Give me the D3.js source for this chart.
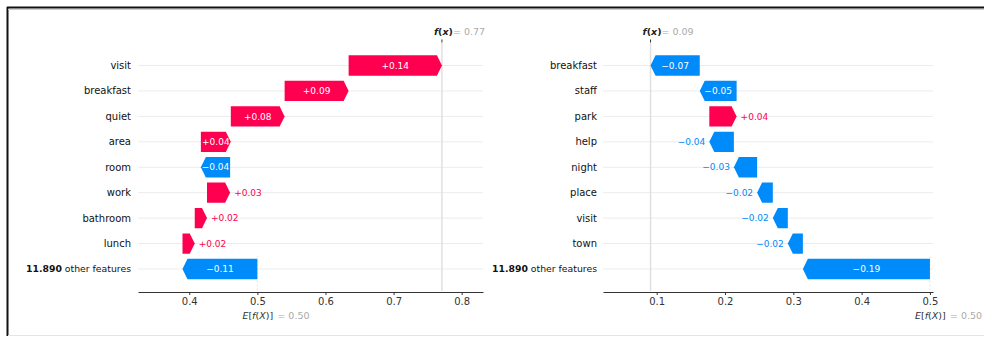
<!DOCTYPE html>
<html>
<head>
<meta charset="utf-8">
<script src="https://cdn.jsdelivr.net/npm/d3@7"></script>
<style>
  body { margin: 0; background: #fff; }
  svg { display: block; font-family: "DejaVu Sans", sans-serif; }
</style>
</head>
<body>
<svg id="chart" width="984" height="337"></svg>
<script>
// Expected model output shared by both explanations
const baseValue = 0.50;

// Left explanation: features listed top to bottom, SHAP values
const leftFeatures = ["visit", "breakfast", "quiet", "area", "room", "work", "bathroom", "lunch", "11.890 other features"];
const leftValues   = [0.137, 0.094, 0.079, 0.044, -0.043, 0.034, 0.018, 0.018, -0.11];
const leftTicks    = [0.4, 0.5, 0.6, 0.7, 0.8];
const leftTickLabels = ["0.4", "0.5", "0.6", "0.7", "0.8"];

// Right explanation
const rightFeatures = ["breakfast", "staff", "park", "help", "night", "place", "visit", "town", "11.890 other features"];
const rightValues   = [-0.072, -0.054, 0.040, -0.036, -0.034, -0.023, -0.022, -0.022, -0.186];
const rightTicks    = [0.1, 0.2, 0.3, 0.4, 0.5];
const rightTickLabels = ["0.1", "0.2", "0.3", "0.4", "0.5"];

const RED = "#ff0051", BLUE = "#008bfb";
const svg = d3.select("#chart");

// frame around the figure
svg.append("line").attr("x1", 7.5).attr("x2", 7.5).attr("y1", 7).attr("y2", 336)
  .attr("stroke", "#111").attr("stroke-width", 2);
svg.append("line").attr("x1", 7).attr("x2", 984).attr("y1", 7.5).attr("y2", 7.5)
  .attr("stroke", "#111").attr("stroke-width", 2);
svg.append("line").attr("x1", 8).attr("x2", 984).attr("y1", 9.5).attr("y2", 9.5)
  .attr("stroke", "#ccc").attr("stroke-width", 1);
svg.append("line").attr("x1", 8).attr("x2", 984).attr("y1", 335.5).attr("y2", 335.5)
  .attr("stroke", "#e4e4e4").attr("stroke-width", 1);

const fmt = v => (v < 0 ? "\u2212" : "+") + Math.abs(v).toFixed(2);

function waterfall(cfg) {
  const { features, values, ticks, tickLabels, domain, range, labelX } = cfg;
  const g = svg.append("g");
  const x = d3.scaleLinear().domain(domain).range(range);
  const y = d3.scaleBand().domain(features).range([52.8, 281.7]).paddingInner(0);
  const step = y.step(), barH = step * 0.8;
  const axisY = 292;

  // cumulative positions, from the base value at the bottom row upward
  const n = features.length;
  const starts = new Array(n), ends = new Array(n);
  let loc = baseValue;
  for (let i = n - 1; i >= 0; i--) {
    starts[i] = loc;
    loc += values[i];
    ends[i] = loc;
  }
  const fx = loc;

  // row guide lines
  g.selectAll("line.grid").data(features).join("line")
    .attr("class", "grid")
    .attr("x1", range[0]).attr("x2", range[1])
    .attr("y1", d => y(d) + step / 2).attr("y2", d => y(d) + step / 2)
    .attr("stroke", "#ececec").attr("stroke-width", 1);

  // f(x) reference line and base value marker
  g.append("line").attr("x1", x(fx)).attr("x2", x(fx)).attr("y1", 43).attr("y2", axisY - 1)
    .attr("stroke", "#e0e0e0").attr("stroke-width", 1.5);
  g.append("line").attr("x1", x(baseValue)).attr("x2", x(baseValue))
    .attr("y1", y(features[n - 1])).attr("y2", axisY - 1)
    .attr("stroke", "#e6e6e6").attr("stroke-width", 1).attr("stroke-dasharray", "2,2");

  // feature names
  g.selectAll("text.feat").data(features).join("text")
    .attr("class", "feat")
    .attr("x", labelX).attr("y", d => y(d) + step / 2).attr("dy", "0.35em")
    .attr("text-anchor", "end").attr("font-size", 10).attr("fill", "#111")
    .each(function (d) {
      const t = d3.select(this);
      const m = d.match(/^([\d.,]+)( .*)$/);
      if (m) {
        t.attr("font-size", 9.3);
        t.append("tspan").attr("font-weight", "bold").text(m[1]);
        t.append("tspan").text(m[2]);
      } else t.text(d);
    });

  // arrow-shaped bars
  const head = 5;
  const rows = features.map((f, i) => ({ f, v: values[i], a: x(starts[i]), b: x(ends[i]) }));
  g.selectAll("path.bar").data(rows).join("path")
    .attr("class", "bar")
    .attr("fill", d => d.v >= 0 ? RED : BLUE)
    .attr("d", d => {
      const top = y(d.f) + (step - barH) / 2, bot = top + barH, mid = top + barH / 2;
      const hl = Math.min(head, Math.abs(d.b - d.a));
      const s = d.v >= 0 ? 1 : -1;
      return `M${d.a},${top}L${d.b - s * hl},${top}L${d.b},${mid}L${d.b - s * hl},${bot}L${d.a},${bot}Z`;
    });

  // value labels: inside the bar when it fits, otherwise beside its tip
  rows.forEach(d => {
    const t = g.append("text")
      .attr("y", y(d.f) + step / 2).attr("dy", "0.35em")
      .attr("font-size", 9).text(fmt(d.v));
    const w = t.node().getComputedTextLength();
    const barW = Math.abs(d.b - d.a);
    if (w + 1 < barW) {
      t.attr("x", (d.a + d.b) / 2).attr("text-anchor", "middle").attr("fill", "#fff");
    } else if (d.v >= 0) {
      t.attr("x", d.b + 4).attr("text-anchor", "start").attr("fill", RED);
    } else {
      t.attr("x", d.b - 4).attr("text-anchor", "end").attr("fill", BLUE);
    }
  });

  // bottom axis
  const ax = g.append("g").attr("transform", `translate(0,${axisY})`)
    .call(d3.axisBottom(x).tickValues(ticks).tickFormat((d, i) => tickLabels[i])
      .tickSize(3).tickSizeOuter(0));
  ax.select(".domain").attr("stroke", "#333");
  ax.selectAll(".tick line").attr("stroke", "#333");
  ax.selectAll(".tick text").attr("font-size", 10).attr("fill", "#333")
    .attr("font-family", "DejaVu Sans, sans-serif");

  // E[f(X)] annotation below the axis
  const e = g.append("text").attr("x", x(baseValue) - 15).attr("y", 318.5)
    .attr("font-size", 9.5).attr("fill", "#333");
  e.append("tspan").attr("font-style", "italic").text("E");
  e.append("tspan").text("[");
  e.append("tspan").attr("font-style", "italic").text("f");
  e.append("tspan").text("(");
  e.append("tspan").attr("font-style", "italic").text("X");
  e.append("tspan").text(")]");
  g.append("text").attr("x", x(baseValue) + 20).attr("y", 318.5)
    .attr("font-size", 9.5).attr("fill", "#aaa").text("= " + baseValue.toFixed(2));

  // f(x) annotation above the plot
  const f = g.append("text").attr("x", x(fx) - 8).attr("y", 35)
    .attr("font-size", 9.5).attr("fill", "#222").attr("font-weight", "bold");
  f.append("tspan").attr("font-style", "italic").text("f");
  f.append("tspan").text("(");
  f.append("tspan").attr("font-style", "italic").text("x");
  f.append("tspan").text(")");
  g.append("text").attr("x", x(fx) + 11).attr("y", 35)
    .attr("font-size", 9.5).attr("fill", "#aaa").text("= " + fx.toFixed(2));
  g.append("line").attr("x1", x(fx)).attr("x2", x(fx)).attr("y1", 39.5).attr("y2", 42.5)
    .attr("stroke", "#333").attr("stroke-width", 1);
}

waterfall({
  features: leftFeatures, values: leftValues,
  ticks: leftTicks, tickLabels: leftTickLabels,
  domain: [0.3247, 0.8313], range: [138, 483], labelX: 131
});
waterfall({
  features: rightFeatures, values: rightValues,
  ticks: rightTicks, tickLabels: rightTickLabels,
  domain: [0.0214, 0.5045], range: [603, 933], labelX: 597
});
</script>
</body>
</html>
